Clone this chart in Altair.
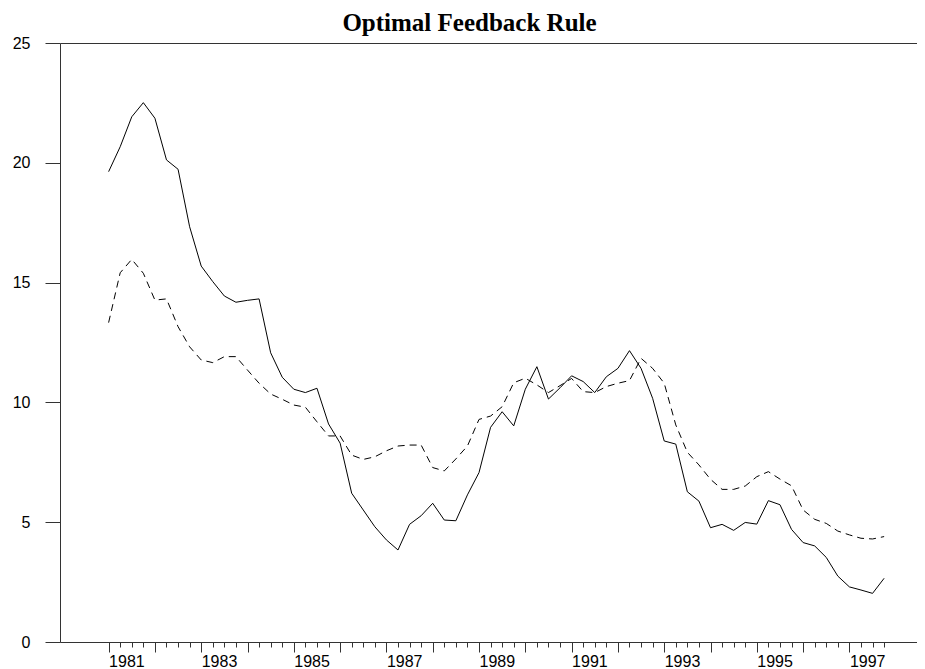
import altair as alt
import pandas as pd

START_YEAR = 1981
# Quarterly values, 1981Q1 .. 1997Q4
actual = [19.63, 20.67, 21.92, 22.51, 21.86, 20.12, 19.73, 17.33, 15.69, 15.04,
          14.44, 14.18, 14.26, 14.32, 12.07, 11.05, 10.55, 10.41, 10.59, 9.10,
          8.30, 6.21, 5.51, 4.81, 4.26, 3.84, 4.91, 5.27, 5.79, 5.09,
          5.06, 6.14, 7.07, 8.96, 9.61, 9.02, 10.55, 11.49, 10.14, 10.61,
          11.11, 10.87, 10.41, 11.07, 11.42, 12.16, 11.42, 10.17, 8.39, 8.26,
          6.27, 5.88, 4.77, 4.91, 4.66, 4.99, 4.92, 5.90, 5.73, 4.70,
          4.15, 4.01, 3.53, 2.75, 2.30, 2.17, 2.03, 2.66]
optimal = [13.33, 15.41, 15.97, 15.39, 14.27, 14.32, 13.16, 12.32, 11.77, 11.66,
           11.91, 11.91, 11.35, 10.80, 10.35, 10.13, 9.89, 9.80, 9.19, 8.60,
           8.60, 7.80, 7.62, 7.73, 7.98, 8.18, 8.22, 8.22, 7.28, 7.14,
           7.64, 8.18, 9.29, 9.43, 9.82, 10.82, 11.01, 10.73, 10.41, 10.70,
           11.00, 10.45, 10.41, 10.66, 10.80, 10.91, 11.84, 11.42, 10.80, 9.06,
           7.92, 7.39, 6.79, 6.37, 6.37, 6.51, 6.90, 7.11, 6.80, 6.52,
           5.51, 5.12, 4.95, 4.63, 4.47, 4.33, 4.30, 4.40]
year_ticks = list(range(1981, 1998))
y_ticks = [0, 5, 10, 15, 20, 25]

times = [START_YEAR + 0.25 * i for i in range(len(actual))]
quarter_ticks = [t for t in times if t != int(t)]

df = pd.DataFrame({
    "t": times * 2,
    "v": actual + optimal,
    "s": ["actual"] * len(actual) + ["optimal"] * len(optimal),
})

FONT = "Liberation Sans"
AX_COLOR = "#333333"
xscale = alt.Scale(domain=[1979.95, 1998.46], nice=False, zero=False)
yscale = alt.Scale(domain=[0, 25], nice=False)

base = alt.Chart(df)

solid = base.transform_filter(alt.datum.s == "actual").mark_line(
    color="black", strokeWidth=1
).encode(
    x=alt.X("t:Q", scale=xscale, axis=alt.Axis(
        orient="bottom", values=year_ticks, format="d",
        labelExpr="datum.value % 2 == 1 ? datum.label : ''",
        tickSize=10, labelAlign="left", labelBaseline="top", labelPadding=1,
        labelFont=FONT, labelFontSize=16, labelColor="black",
        tickColor=AX_COLOR, domainColor=AX_COLOR, grid=False, title=None,
        labelOverlap=False, labelFlush=False)),
    y=alt.Y("v:Q", scale=yscale, axis=alt.Axis(
        values=y_ticks, tickSize=15, labelPadding=15, labelFont=FONT,
        labelFontSize=16, labelColor="black", tickColor=AX_COLOR,
        domainColor=AX_COLOR, grid=False, title=None, labelFlush=False,
        labelOverlap=False)),
)

dashed = base.transform_filter(alt.datum.s == "optimal").mark_line(
    color="black", strokeWidth=1, strokeDash=[7, 5]
).encode(
    x=alt.X("t:Q", scale=xscale, axis=alt.Axis(
        orient="bottom", values=quarter_ticks, tickSize=5, labels=False,
        domain=False, tickColor=AX_COLOR, grid=False, title=None)),
    y=alt.Y("v:Q", scale=yscale, axis=None),
)

topline = base.mark_point(opacity=0).encode(
    x=alt.X("t:Q", scale=xscale, axis=alt.Axis(
        orient="top", ticks=False, labels=False, domain=True,
        domainColor=AX_COLOR, grid=False, title=None)),
    y=alt.Y("v:Q", scale=yscale, axis=None),
)

chart = alt.layer(solid, dashed, topline).resolve_axis(
    x="independent", y="independent"
).properties(
    width=857,
    height=599,
    title=alt.TitleParams(
        "Optimal Feedback Rule", font="Liberation Serif", fontWeight="bold",
        fontSize=25, color="black", anchor="middle", dx=-19, dy=5, offset=4),
    padding={"left": 52, "top": 35, "right": 0, "bottom": 27},
    autosize=alt.AutoSizeParams(type="none"),
).configure_view(stroke=None)

chart.save("out.html", embed_options={"renderer": "svg", "actions": False})
